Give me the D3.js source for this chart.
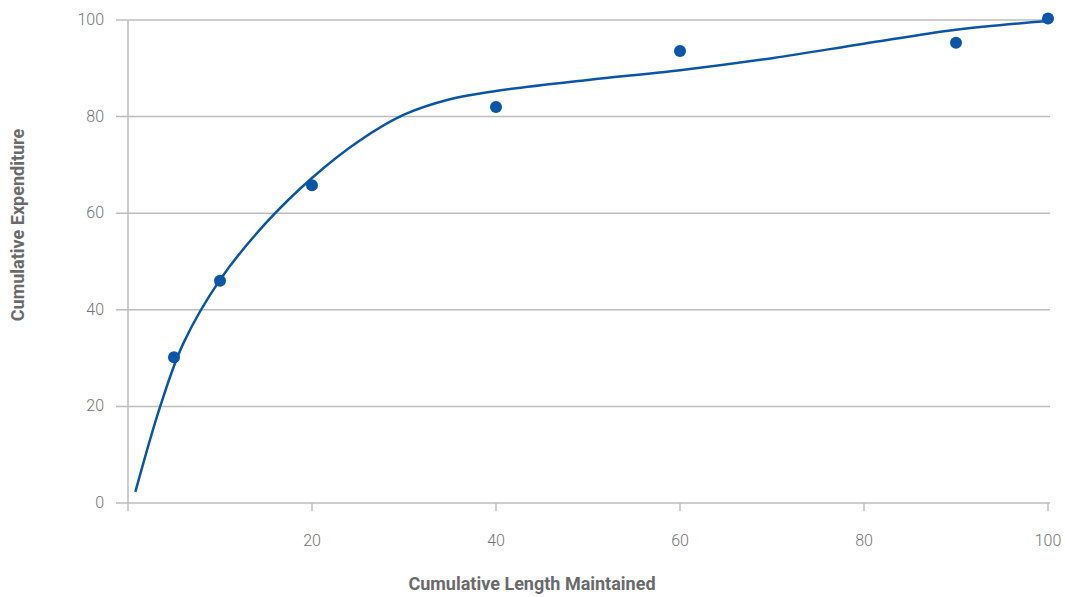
<!DOCTYPE html>
<html><head><meta charset="utf-8">
<script src="https://cdn.jsdelivr.net/npm/d3@7"></script>
<style>
body{margin:0;background:#fff;}
svg{display:block;font-family:Roboto, "DejaVu Sans", sans-serif;}
</style></head>
<body><svg id="c" width="1065" height="597"></svg>
<script>
const xTicks = [20, 40, 60, 80, 100];
const yTicks = [0, 20, 40, 60, 80, 100];
const pointX = [5, 10, 20, 40, 60, 90, 100];
const pointY = [30.2, 46, 65.8, 82, 93.6, 95.3, 100.3];
const curveX = [0.8, 3.5, 6, 10, 15, 20, 25, 30, 35, 40, 50, 60, 70, 80, 90, 100];
const curveY = [2.3, 20, 33, 46.2, 58, 67.3, 74.8, 80.4, 83.6, 85.3, 87.6, 89.6, 92.1, 95.1, 98.0, 99.8];
const xTitle = "Cumulative Length Maintained";
const yTitle = "Cumulative Expenditure";

const svg = d3.select("#c");
const x = d3.scaleLinear().domain([0, 100]).range([128, 1048]);
const y = d3.scaleLinear().domain([0, 100]).range([503, 20]);
const grid = "#bdbdc0", txt = "#737376", blue = "#0a55a6";

svg.append("g").selectAll("line").data(yTicks).join("line")
  .attr("x1", 116).attr("x2", 1050)
  .attr("y1", d => y(d)).attr("y2", d => y(d))
  .attr("stroke", grid).attr("stroke-width", 1.5);
svg.append("line").attr("x1", x(0)).attr("x2", x(0)).attr("y1", y(100)).attr("y2", y(0) + 8)
  .attr("stroke", grid).attr("stroke-width", 1.5);
svg.append("g").selectAll("line").data(xTicks).join("line")
  .attr("x1", d => x(d)).attr("x2", d => x(d)).attr("y1", y(0)).attr("y2", y(0) + 8)
  .attr("stroke", grid).attr("stroke-width", 1.5);
svg.append("g").selectAll("text").data(yTicks).join("text")
  .attr("x", 104).attr("y", d => y(d) + 5).attr("text-anchor", "end")
  .attr("font-size", 16).attr("font-weight", 300).attr("fill", txt).text(d => d);
svg.append("g").selectAll("text").data(xTicks).join("text")
  .attr("x", d => x(d)).attr("y", 546).attr("text-anchor", "middle")
  .attr("font-size", 16).attr("font-weight", 300).attr("fill", txt).text(d => d);
svg.append("text").attr("x", 532).attr("y", 590).attr("text-anchor", "middle")
  .attr("font-size", 18).attr("font-weight", 700).attr("fill", "#6a6a6d").text(xTitle);
svg.append("text").attr("transform", "translate(24,225) rotate(-90)").attr("text-anchor", "middle")
  .attr("font-size", 18).attr("font-weight", 700).attr("fill", "#6a6a6d").text(yTitle);

const cdata = curveX.map((v, i) => [v, curveY[i]]);
svg.append("path").datum(cdata)
  .attr("d", d3.line().x(d => x(d[0])).y(d => y(d[1])).curve(d3.curveCatmullRom.alpha(0.5)))
  .attr("fill", "none").attr("stroke", blue).attr("stroke-width", 2.5);
const pdata = pointX.map((v, i) => [v, pointY[i]]);
svg.append("g").selectAll("circle").data(pdata).join("circle")
  .attr("cx", d => x(d[0])).attr("cy", d => y(d[1])).attr("r", 6).attr("fill", blue);
</script></body></html>
